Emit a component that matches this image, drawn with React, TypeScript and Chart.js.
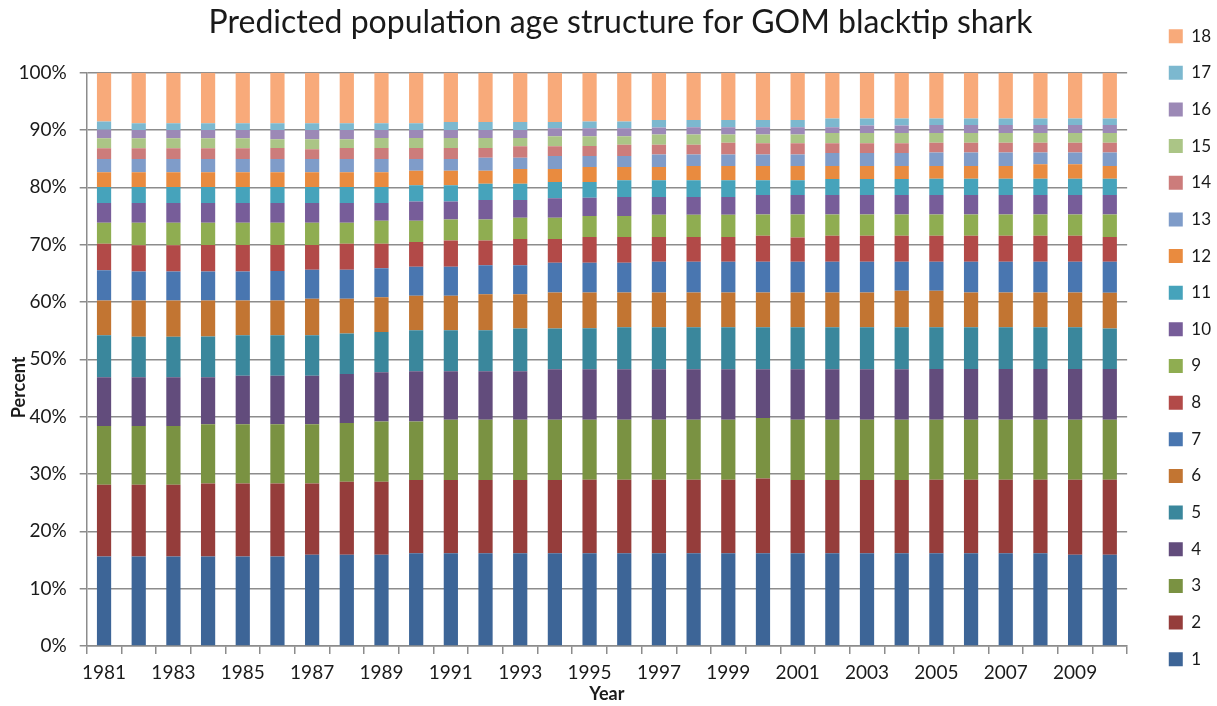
import React, { useEffect, useRef } from "react";
import { Chart, registerables } from "chart.js";

Chart.register(...registerables);

const years = [
  "1981", "1982", "1983", "1984", "1985", "1986", "1987", "1988", "1989", "1990",
  "1991", "1992", "1993", "1994", "1995", "1996", "1997", "1998", "1999", "2000",
  "2001", "2002", "2003", "2004", "2005", "2006", "2007", "2008", "2009", "2010",
];

const age1 = [15.6, 15.6, 15.6, 15.6, 15.6, 15.6, 15.9, 15.9, 15.9, 16.19, 16.19, 16.19, 16.19, 16.19, 16.19, 16.19, 16.19, 16.19, 16.19, 16.19, 16.19, 16.19, 16.19, 16.19, 16.19, 16.19, 16.19, 16.19, 15.9, 15.9];
const age2 = [12.5, 12.5, 12.5, 12.75, 12.75, 12.75, 12.45, 12.75, 12.75, 12.75, 12.75, 12.75, 12.75, 12.75, 12.81, 12.81, 12.81, 12.81, 12.81, 13.04, 12.75, 12.75, 12.75, 12.75, 12.81, 12.81, 12.81, 12.81, 13.1, 13.1];
const age3 = [10.25, 10.25, 10.25, 10.31, 10.31, 10.31, 10.31, 10.24, 10.53, 10.24, 10.54, 10.54, 10.54, 10.54, 10.48, 10.48, 10.48, 10.48, 10.48, 10.54, 10.54, 10.54, 10.54, 10.54, 10.48, 10.48, 10.48, 10.48, 10.48, 10.48];
const age4 = [8.5, 8.5, 8.5, 8.21, 8.5, 8.5, 8.5, 8.56, 8.56, 8.74, 8.44, 8.44, 8.44, 8.79, 8.79, 8.79, 8.79, 8.79, 8.79, 8.5, 8.79, 8.79, 8.79, 8.79, 8.85, 8.85, 8.85, 8.85, 8.85, 8.85];
const age5 = [7.34, 7.1, 7.1, 7.1, 7.05, 7.05, 7.05, 7.05, 7.05, 7.16, 7.16, 7.16, 7.45, 7.1, 7.16, 7.33, 7.33, 7.33, 7.33, 7.33, 7.33, 7.33, 7.33, 7.33, 7.27, 7.27, 7.27, 7.27, 7.27, 7.04];
const age6 = [6.05, 6.29, 6.29, 6.29, 6.05, 6.05, 6.34, 6.05, 6.05, 6.0, 6.0, 6.29, 6.0, 6.29, 6.23, 6.06, 6.06, 6.06, 6.06, 6.06, 6.06, 6.06, 6.06, 6.35, 6.35, 6.06, 6.06, 6.06, 6.06, 6.23];
const age7 = [5.3, 5.07, 5.07, 5.07, 5.07, 5.13, 5.07, 5.07, 5.07, 5.06, 5.06, 5.06, 5.06, 5.18, 5.18, 5.18, 5.36, 5.36, 5.36, 5.36, 5.36, 5.36, 5.36, 5.07, 5.07, 5.36, 5.36, 5.36, 5.36, 5.42];
const age8 = [4.6, 4.6, 4.6, 4.6, 4.6, 4.54, 4.31, 4.54, 4.25, 4.31, 4.6, 4.31, 4.55, 4.14, 4.48, 4.48, 4.3, 4.3, 4.3, 4.54, 4.25, 4.54, 4.54, 4.54, 4.54, 4.54, 4.54, 4.54, 4.54, 4.3];
const age9 = [3.67, 3.9, 3.9, 3.9, 3.9, 3.9, 3.9, 3.67, 4.02, 3.73, 3.67, 3.67, 3.72, 3.72, 3.67, 3.67, 3.91, 3.91, 3.91, 3.72, 4.01, 3.72, 3.72, 3.72, 3.72, 3.72, 3.72, 3.72, 3.72, 3.96];
const age10 = [3.43, 3.43, 3.43, 3.43, 3.43, 3.43, 3.43, 3.43, 3.08, 3.37, 3.14, 3.38, 3.09, 3.38, 3.21, 3.32, 3.08, 3.08, 3.08, 3.38, 3.38, 3.38, 3.38, 3.38, 3.38, 3.38, 3.38, 3.38, 3.38, 3.38];
const age11 = [2.8, 2.8, 2.8, 2.8, 2.8, 2.8, 2.8, 2.8, 2.8, 2.8, 2.8, 2.85, 2.85, 2.85, 2.73, 2.91, 2.91, 2.91, 2.91, 2.56, 2.56, 2.8, 2.8, 2.8, 2.85, 2.85, 2.85, 2.85, 2.85, 2.85];
const age12 = [2.56, 2.56, 2.56, 2.56, 2.56, 2.56, 2.56, 2.56, 2.56, 2.56, 2.56, 2.27, 2.56, 2.27, 2.62, 2.33, 2.33, 2.51, 2.51, 2.51, 2.51, 2.27, 2.27, 2.27, 2.22, 2.22, 2.22, 2.51, 2.51, 2.22];
const age13 = [2.33, 2.33, 2.33, 2.33, 2.33, 2.33, 2.33, 2.33, 2.33, 2.04, 2.04, 2.27, 1.98, 2.27, 1.92, 1.92, 2.16, 1.98, 1.98, 1.98, 1.98, 2.27, 2.27, 2.27, 2.33, 2.33, 2.33, 2.04, 2.04, 2.33];
const age14 = [1.86, 1.86, 1.86, 1.86, 1.86, 1.92, 1.69, 1.92, 1.92, 1.92, 1.92, 1.69, 1.98, 1.69, 1.75, 1.98, 1.74, 1.74, 2.09, 1.98, 1.98, 1.69, 1.69, 1.69, 1.74, 1.74, 1.74, 1.74, 1.74, 1.74];
const age15 = [1.75, 1.75, 1.75, 1.75, 1.75, 1.51, 1.74, 1.51, 1.75, 1.75, 1.75, 1.75, 1.46, 1.75, 1.69, 1.46, 1.75, 1.75, 1.4, 1.51, 1.51, 1.8, 1.8, 1.8, 1.69, 1.69, 1.69, 1.69, 1.69, 1.69];
const age16 = [1.51, 1.45, 1.45, 1.45, 1.45, 1.63, 1.63, 1.63, 1.39, 1.39, 1.39, 1.39, 1.39, 1.4, 1.4, 1.4, 1.22, 1.28, 1.28, 1.28, 1.28, 0.99, 1.28, 1.28, 1.4, 1.4, 1.4, 1.4, 1.4, 1.4];
const age17 = [1.4, 1.17, 1.17, 1.17, 1.17, 1.17, 1.17, 1.17, 1.17, 1.17, 1.4, 1.4, 1.4, 1.1, 1.16, 1.16, 1.34, 1.28, 1.28, 1.28, 1.28, 1.52, 1.23, 1.23, 1.11, 1.11, 1.11, 1.11, 1.11, 1.11];
const age18 = [8.53, 8.82, 8.82, 8.82, 8.82, 8.82, 8.82, 8.82, 8.82, 8.82, 8.59, 8.59, 8.59, 8.59, 8.53, 8.53, 8.24, 8.24, 8.24, 8.24, 8.24, 8.0, 8.0, 8.0, 8.0, 8.0, 8.0, 8.0, 8.0, 8.0];

const ageSeries = [age1, age2, age3, age4, age5, age6, age7, age8, age9, age10, age11, age12, age13, age14, age15, age16, age17, age18];
const ageLabels = ["1", "2", "3", "4", "5", "6", "7", "8", "9", "10", "11", "12", "13", "14", "15", "16", "17", "18"];
const ageColors = [
  "#3D6597", "#953D3B", "#7A9242", "#624C7C", "#3A879C", "#C27532",
  "#4976B0", "#B24A48", "#8FAD51", "#775D99", "#46A3BB", "#E98B3F",
  "#7F9CC9", "#CC7C7B", "#ABC586", "#9C89B6", "#7CB8CF", "#F8AA7A",
];

const chartTitle = "Predicted population age structure for GOM blacktip shark";
const xTitle = "Year";
const yTitle = "Percent";

const FONT = "Lato, 'Open Sans', 'DejaVu Sans', sans-serif";
const TEXT = "#1a1a1a";
const GRID = "#8c8c8c";

const LEGEND_EXTRA = 18;
const LEGEND_SHIFT = 22;
const TITLE_SHIFT = 8;
const Y_TITLE_OFFSET = 28;

const layoutNudge = {
  id: "layoutNudge",
  beforeUpdate(chart: any) {
    const lg = chart.legend;
    if (lg && !lg.__nudged) {
      const fit = lg.fit.bind(lg);
      lg.fit = function () {
        fit();
        this.width += LEGEND_EXTRA;
      };
      lg.__nudged = true;
    }
  },
  afterLayout(chart: any) {
    const lg = chart.legend;
    if (lg) {
      lg.left += LEGEND_SHIFT;
      lg.right += LEGEND_SHIFT;
    }
    const t = chart.titleBlock;
    if (t) {
      t.left += TITLE_SHIFT;
      t.right += TITLE_SHIFT;
    }
  },
  afterDraw(chart: any) {
    const { ctx, chartArea } = chart;
    const ys = chart.scales.y;
    ctx.save();
    ctx.translate(ys.left + 10.8, (chartArea.top + chartArea.bottom) / 2 + Y_TITLE_OFFSET);
    ctx.rotate(-Math.PI / 2);
    ctx.textAlign = "center";
    ctx.textBaseline = "middle";
    ctx.fillStyle = TEXT;
    ctx.font = `bold 18px ${FONT}`;
    ctx.fillText(yTitle, 0, 0);
    ctx.restore();
  },
};

export default function App() {
  const ref = useRef<HTMLCanvasElement | null>(null);

  useEffect(() => {
    if (!ref.current) return;
    const totals = years.map((_, i) => ageSeries.reduce((s, arr) => s + arr[i], 0));
    const datasets = ageSeries.map((arr, k) => ({
      label: ageLabels[k],
      data: arr.map((v, i) => (v / totals[i]) * 100),
      backgroundColor: ageColors[k],
      borderWidth: 0,
      barPercentage: 0.41,
      categoryPercentage: 1,
    }));

    const chart = new Chart(ref.current, {
      type: "bar",
      data: { labels: years, datasets },
      plugins: [layoutNudge],
      options: {
        animation: false,
        responsive: true,
        maintainAspectRatio: false,
        layout: { padding: 0 },
        plugins: {
          title: {
            display: true,
            text: chartTitle,
            color: TEXT,
            font: { family: FONT, size: 32, weight: "normal", lineHeight: 0.9 },
            padding: { top: 0, bottom: 35.9 },
          },
          legend: {
            display: true,
            position: "right",
            align: "start",
            reverse: true,
            labels: {
              color: TEXT,
              font: { family: FONT, size: 17 },
              boxWidth: 14,
              boxHeight: 14,
              padding: 19.65,
            },
          },
          tooltip: { enabled: false },
        },
        scales: {
          x: {
            stacked: true,
            offset: true,
            afterFit: (scale: any) => {
              scale.height = 60;
            },
            grid: {
              display: true,
              offset: true,
              drawOnChartArea: false,
              drawTicks: true,
              tickLength: 8,
              color: GRID,
              lineWidth: 1.5,
            },
            border: { display: true, color: GRID, width: 1.5 },
            ticks: {
              autoSkip: false,
              maxRotation: 0,
              minRotation: 0,
              padding: 9,
              color: TEXT,
              font: { family: FONT, size: 19, lineHeight: 1 },
              callback: (_v: any, i: number) => (i % 2 === 0 ? years[i] : ""),
            },
            title: {
              display: true,
              text: xTitle,
              color: TEXT,
              font: { family: FONT, size: 18, weight: "bold", lineHeight: 1.2 },
              padding: { top: 0, bottom: 1.2 },
            },
          },
          y: {
            stacked: true,
            min: 0,
            max: 100,
            afterFit: (scale: any) => {
              scale.width = 78.7;
            },
            grid: {
              color: GRID,
              lineWidth: 1.5,
              drawTicks: true,
              tickLength: 7,
            },
            border: { display: true, color: GRID, width: 1.5 },
            ticks: {
              stepSize: 10,
              padding: 13,
              color: TEXT,
              font: { family: FONT, size: 19 },
              callback: (v: any) => `${v}%`,
            },
            title: { display: false },
          },
        },
      },
    });
    return () => chart.destroy();
  }, []);

  return (
    <div style={{ position: "absolute", left: 8, top: 8, width: 1209, height: 698 }}>
      <canvas ref={ref} />
    </div>
  );
}
